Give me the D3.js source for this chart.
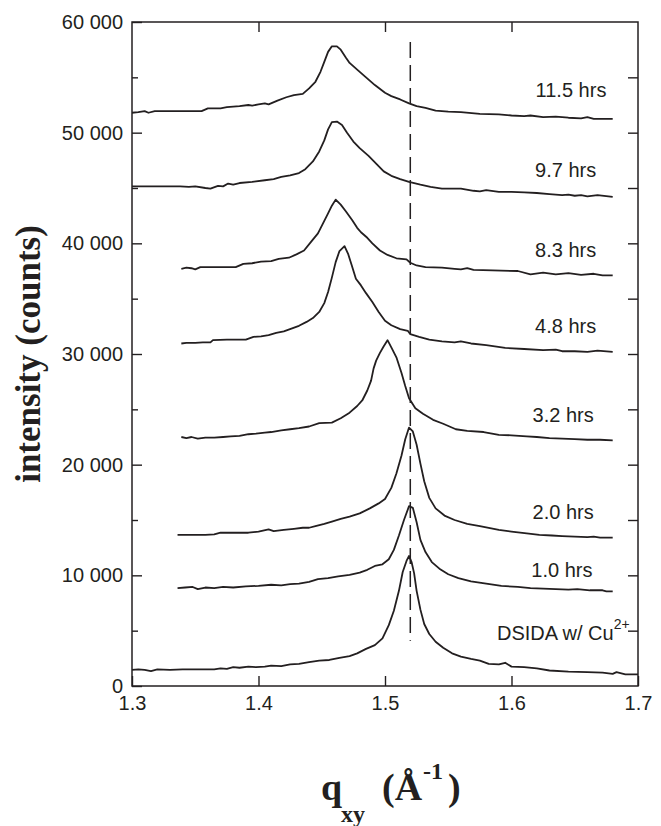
<!DOCTYPE html>
<html>
<head>
<meta charset="utf-8">
<script src="https://cdn.jsdelivr.net/npm/d3@7"></script>
<style>
  html, body { margin: 0; padding: 0; background: #fff; }
  svg { display: block; }
</style>
</head>
<body>
<svg id="chart" width="661" height="826"></svg>
<script>
// ---------------- data ----------------
const xTicks = [1.3, 1.4, 1.5, 1.6, 1.7];
const xTickLabels = ["1.3", "1.4", "1.5", "1.6", "1.7"];
const yMajorTicks = [0, 10000, 20000, 30000, 40000, 50000, 60000];
const yMajorLabels = ["0", "10 000", "20 000", "30 000", "40 000", "50 000", "60 000"];
const yMinorTicks = [5000, 15000, 25000, 35000, 45000, 55000];
const referenceQ = 1.52;

const seriesNames = ["11.5 hrs", "9.7 hrs", "8.3 hrs", "4.8 hrs", "3.2 hrs", "2.0 hrs", "1.0 hrs", "DSIDA w/ Cu"];
// label anchors in data units [q, intensity] (text end / baseline)
const labelAnchors = [[1.675, 53200], [1.667, 46000], [1.667, 38800], [1.667, 31900], [1.665, 23900], [1.665, 15050], [1.664, 9880], [1.5885, 4160]];

const s115 = [[1.300,51800],[1.305,51850],[1.310,51950],[1.313,51800],[1.318,51950],[1.330,51950],[1.345,51950],[1.355,51950],[1.360,52200],[1.370,52200],[1.375,52300],[1.385,52400],[1.392,52500],[1.395,52450],[1.400,52550],[1.405,52650],[1.408,52550],[1.415,52900],[1.422,53200],[1.428,53400],[1.435,53500],[1.440,54000],[1.445,54600],[1.449,55500],[1.452,56400],[1.455,57300],[1.458,57800],[1.462,57800],[1.465,57500],[1.469,56800],[1.472,56300],[1.478,55700],[1.485,55000],[1.492,54300],[1.500,53600],[1.505,53300],[1.512,53000],[1.519,52650],[1.525,52400],[1.532,52250],[1.540,52000],[1.550,51900],[1.560,51850],[1.575,51700],[1.590,51650],[1.600,51550],[1.610,51500],[1.615,51550],[1.625,51400],[1.635,51450],[1.645,51350],[1.655,51300],[1.660,51400],[1.665,51250],[1.680,51250]];
const s97 = [[1.300,45150],[1.320,45150],[1.338,45150],[1.345,45100],[1.350,45150],[1.358,45000],[1.362,44950],[1.368,45200],[1.372,45150],[1.376,45400],[1.380,45300],[1.385,45450],[1.395,45550],[1.405,45700],[1.412,45800],[1.418,46000],[1.425,46150],[1.432,46350],[1.437,46700],[1.443,47400],[1.448,48300],[1.452,49300],[1.455,50300],[1.458,50950],[1.462,51000],[1.466,50700],[1.470,50000],[1.475,49200],[1.480,48600],[1.487,47900],[1.493,47200],[1.499,46500],[1.505,46100],[1.512,45800],[1.519,45550],[1.528,45300],[1.536,45100],[1.545,44950],[1.560,44950],[1.570,44750],[1.575,44700],[1.580,44800],[1.590,44650],[1.600,44650],[1.610,44600],[1.620,44550],[1.630,44450],[1.640,44350],[1.645,44400],[1.650,44300],[1.655,44350],[1.660,44250],[1.668,44350],[1.680,44200]];
const s83 = [[1.339,37700],[1.343,37800],[1.347,37750],[1.350,37650],[1.354,37850],[1.365,37850],[1.382,37850],[1.388,38150],[1.395,38200],[1.402,38350],[1.410,38400],[1.416,38600],[1.424,38700],[1.430,39000],[1.436,39350],[1.442,40200],[1.447,40900],[1.451,41800],[1.455,42700],[1.458,43400],[1.461,43950],[1.465,43500],[1.469,42900],[1.474,42100],[1.478,41400],[1.481,41000],[1.486,40500],[1.490,40000],[1.496,39350],[1.502,38950],[1.509,38650],[1.517,38550],[1.520,38250],[1.525,38000],[1.532,37850],[1.545,37800],[1.555,37700],[1.560,37650],[1.565,37750],[1.570,37600],[1.585,37550],[1.605,37500],[1.615,37200],[1.625,37350],[1.635,37200],[1.645,37300],[1.655,37150],[1.665,37250],[1.672,37100],[1.680,37100]];
const s48 = [[1.339,30950],[1.343,31000],[1.350,31000],[1.356,31050],[1.362,31050],[1.364,31250],[1.375,31300],[1.390,31300],[1.396,31550],[1.402,31600],[1.408,31700],[1.414,31900],[1.420,32050],[1.426,32300],[1.432,32550],[1.438,32900],[1.443,33250],[1.448,33800],[1.452,34600],[1.455,35600],[1.458,36900],[1.461,38300],[1.464,39300],[1.468,39750],[1.471,39000],[1.474,37900],[1.477,36800],[1.481,36200],[1.485,35500],[1.490,34700],[1.495,33800],[1.500,33000],[1.505,32600],[1.512,32250],[1.518,32100],[1.520,31800],[1.527,31550],[1.535,31300],[1.545,31150],[1.555,31050],[1.560,31150],[1.568,30950],[1.580,30800],[1.595,30550],[1.610,30450],[1.625,30350],[1.635,30400],[1.640,30250],[1.650,30250],[1.660,30200],[1.668,30300],[1.680,30200]];
const s32 = [[1.339,22500],[1.343,22400],[1.347,22500],[1.352,22350],[1.358,22450],[1.365,22450],[1.372,22500],[1.378,22550],[1.385,22600],[1.392,22750],[1.398,22800],[1.405,22900],[1.410,22950],[1.418,23100],[1.425,23200],[1.432,23300],[1.440,23450],[1.448,23750],[1.458,23800],[1.465,24200],[1.472,24700],[1.478,25300],[1.482,25800],[1.486,26700],[1.489,27600],[1.491,28700],[1.493,29400],[1.496,30100],[1.499,30700],[1.502,31250],[1.505,30600],[1.509,29700],[1.513,28300],[1.516,27100],[1.519,26000],[1.524,25100],[1.530,24600],[1.538,24050],[1.546,23700],[1.556,23200],[1.565,23050],[1.578,22950],[1.590,22700],[1.600,22650],[1.612,22550],[1.620,22500],[1.630,22400],[1.640,22350],[1.650,22300],[1.660,22250],[1.670,22250],[1.680,22200]];
const s20 = [[1.336,13650],[1.345,13650],[1.358,13650],[1.365,13700],[1.370,13850],[1.385,13850],[1.392,13850],[1.400,13950],[1.408,14150],[1.412,14000],[1.420,14100],[1.428,14200],[1.435,14300],[1.440,14300],[1.445,14450],[1.452,14650],[1.458,14850],[1.465,15100],[1.472,15300],[1.480,15600],[1.488,16050],[1.495,16500],[1.500,16900],[1.505,17900],[1.509,19200],[1.513,20800],[1.516,22300],[1.519,23350],[1.522,23000],[1.525,21800],[1.528,20100],[1.531,18500],[1.535,17000],[1.540,16050],[1.547,15400],[1.555,15000],[1.565,14650],[1.575,14450],[1.590,14100],[1.600,13950],[1.612,13800],[1.622,13650],[1.632,13600],[1.640,13550],[1.650,13500],[1.660,13450],[1.665,13500],[1.670,13400],[1.680,13400]];
const s10 = [[1.336,8850],[1.342,8900],[1.348,8950],[1.352,8750],[1.358,8900],[1.365,8850],[1.372,8950],[1.380,8900],[1.390,9000],[1.400,9050],[1.410,9150],[1.418,9100],[1.425,9200],[1.432,9250],[1.440,9400],[1.447,9650],[1.455,9750],[1.463,9900],[1.472,10050],[1.480,10250],[1.486,10500],[1.492,10850],[1.498,11000],[1.503,11450],[1.507,12300],[1.511,13600],[1.515,15000],[1.519,16250],[1.522,16100],[1.525,14800],[1.528,13200],[1.532,12100],[1.537,11200],[1.543,10600],[1.550,10100],[1.558,9750],[1.568,9450],[1.580,9250],[1.592,9050],[1.605,8950],[1.615,8850],[1.625,8800],[1.635,8750],[1.645,8700],[1.652,8750],[1.662,8650],[1.672,8650],[1.675,8550],[1.680,8550]];
const sDSIDA = [[1.300,1450],[1.305,1500],[1.310,1450],[1.315,1350],[1.320,1500],[1.330,1450],[1.340,1500],[1.355,1500],[1.365,1500],[1.370,1600],[1.375,1550],[1.380,1700],[1.385,1650],[1.392,1750],[1.398,1700],[1.405,1750],[1.410,1850],[1.418,1800],[1.425,1950],[1.432,2000],[1.440,2150],[1.448,2300],[1.456,2350],[1.464,2550],[1.472,2700],[1.478,2950],[1.485,3350],[1.492,3700],[1.498,4300],[1.503,5500],[1.507,6800],[1.511,8600],[1.514,10300],[1.517,11300],[1.519,11750],[1.521,11200],[1.523,10200],[1.525,8600],[1.528,6900],[1.531,5600],[1.535,4700],[1.540,4000],[1.546,3450],[1.553,2950],[1.560,2650],[1.568,2450],[1.575,2300],[1.582,2000],[1.590,1950],[1.595,2100],[1.600,1750],[1.610,1700],[1.620,1600],[1.630,1400],[1.645,1300],[1.660,1250],[1.672,1200],[1.680,1100],[1.683,1250],[1.690,1050],[1.700,1050]];

const allSeries = [s115, s97, s83, s48, s32, s20, s10, sDSIDA];

// ---------------- layout ----------------
const svg = d3.select("#chart");
const L = 132, R = 638, T = 22, B = 686;
const x = d3.scaleLinear().domain([1.3, 1.7]).range([L, R]);
const y = d3.scaleLinear().domain([0, 60000]).range([B, T]);
const tickFont = "'Liberation Sans', Arial, Helvetica, sans-serif";
const serif = "'Liberation Serif', 'Times New Roman', Times, serif";

// axes (inward ticks)
function styleAxis(g) {
  g.select(".domain").remove();
  g.selectAll(".tick line").attr("stroke", "#231f20").attr("stroke-width", 1.4);
  g.selectAll(".tick text").attr("fill", "#231f20").attr("font-family", tickFont).attr("font-size", 20);
}
svg.append("g").attr("transform", `translate(0,${B})`)
  .call(d3.axisBottom(x).tickValues(xTicks).tickSize(-10).tickPadding(10).tickFormat((d, i) => xTickLabels[i]))
  .call(styleAxis);
svg.append("g").attr("transform", `translate(0,${T})`)
  .call(d3.axisTop(x).tickValues(xTicks.slice(1, -1)).tickSize(-10).tickFormat(""))
  .call(styleAxis);
svg.append("g").attr("transform", `translate(${L},0)`)
  .call(d3.axisLeft(y).tickValues(yMajorTicks).tickSize(-10).tickPadding(9).tickFormat((d, i) => yMajorLabels[i]))
  .call(styleAxis);
svg.append("g").attr("transform", `translate(${L},0)`)
  .call(d3.axisLeft(y).tickValues(yMinorTicks).tickSize(-6).tickFormat(""))
  .call(styleAxis);
svg.append("g").attr("transform", `translate(${R},0)`)
  .call(d3.axisRight(y).tickValues(yMajorTicks.slice(1, -1).concat(yMinorTicks)).tickSize(-10).tickFormat(""))
  .call(styleAxis);

// frame
svg.append("rect").attr("x", L).attr("y", T).attr("width", R - L).attr("height", B - T)
  .attr("fill", "none").attr("stroke", "#231f20").attr("stroke-width", 1.5);

// dashed reference line
svg.append("line")
  .attr("x1", x(referenceQ)).attr("x2", x(referenceQ))
  .attr("y1", y(58200)).attr("y2", y(4100))
  .attr("stroke", "#231f20").attr("stroke-width", 1.5).attr("stroke-dasharray", "16,7");

// curves
const line = d3.line().x(d => x(d[0])).y(d => y(d[1]));
svg.append("g").selectAll("path").data(allSeries).join("path")
  .attr("d", line).attr("fill", "none").attr("stroke", "#231f20")
  .attr("stroke-width", 1.8).attr("stroke-linejoin", "round");

// labels
seriesNames.forEach((name, i) => {
  const [q, v] = labelAnchors[i];
  const t = svg.append("text").attr("x", x(q)).attr("y", y(v))
    .attr("font-family", tickFont).attr("font-size", 20).attr("fill", "#231f20");
  if (i === seriesNames.length - 1) {
    t.attr("text-anchor", "start");
    t.append("tspan").text(name);
    t.append("tspan").attr("dy", -11).attr("font-size", 14).text("2+");
  } else {
    t.attr("text-anchor", "end").text(name);
  }
});

// y title
svg.append("text")
  .attr("transform", `translate(40,${(T + B) / 2}) rotate(-90)`)
  .attr("text-anchor", "middle")
  .attr("font-family", serif).attr("font-weight", "bold").attr("font-size", 35)
  .attr("fill", "#231f20")
  .text("intensity (counts)");

// x title
const xt = svg.append("g").attr("font-family", serif).attr("font-weight", "bold").attr("fill", "#231f20");
xt.append("text").attr("x", 321).attr("y", 800).attr("font-size", 38).text("q");
xt.append("text").attr("x", 341).attr("y", 822).attr("font-size", 24).text("xy");
xt.append("text").attr("x", 382).attr("y", 800).attr("font-size", 38).text("(Å");
xt.append("text").attr("x", 423).attr("y", 779).attr("font-size", 24).text("-1");
xt.append("text").attr("x", 448).attr("y", 800).attr("font-size", 38).text(")");
</script>
</body>
</html>
